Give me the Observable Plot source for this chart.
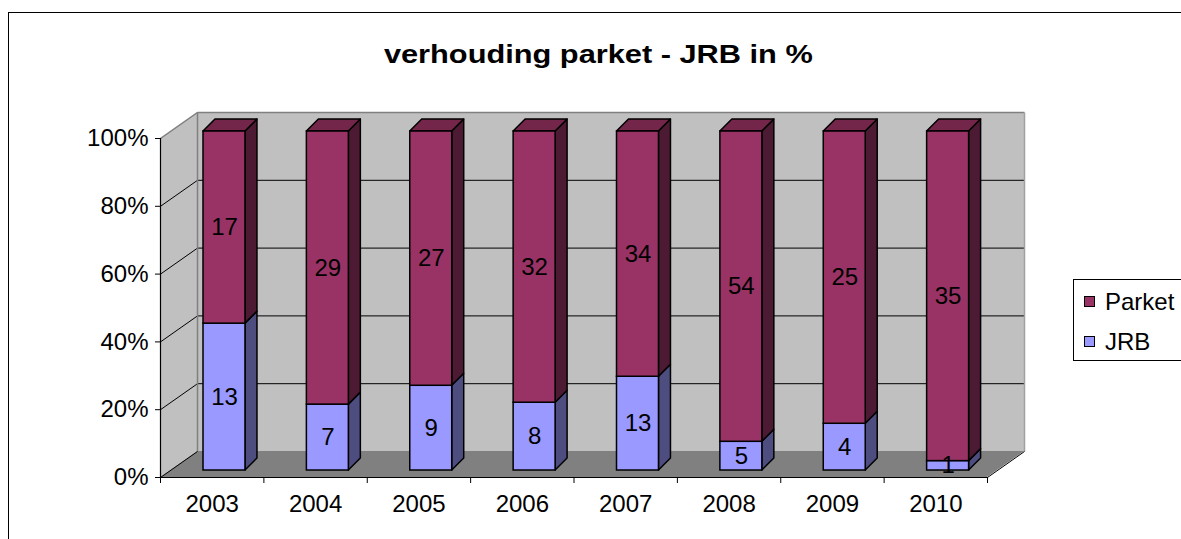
<!DOCTYPE html>
<html>
<head>
<meta charset="utf-8">
<script src="https://cdn.jsdelivr.net/npm/d3@7"></script>
<script src="https://cdn.jsdelivr.net/npm/@observablehq/plot@0.6"></script>
<style>
  html, body { margin: 0; padding: 0; background: #fff; overflow: hidden; }
  body { width: 1181px; height: 539px; position: relative; font-family: "Liberation Sans", Arial, sans-serif; }
  #frame { position: absolute; left: 8px; top: 12px; width: 1300px; height: 700px; border: 1px solid #000; box-sizing: border-box; }
  #title { position: absolute; left: 0; width: 1197px; top: 42px; text-align: center; font-weight: bold; font-size: 25px; line-height: 25px; color: #000; }
  #title span { display: inline-block; transform: scaleX(1.23); }
  #chart { position: absolute; left: 0; top: 80px; }
  #legend { position: absolute; left: 1073px; top: 279px; width: 200px; height: 82px; border: 1px solid #000; box-sizing: border-box; background: #fff; }
  .sw { position: absolute; width: 11px; height: 11px; border: 1px solid #000; box-sizing: border-box; }
  .lt { position: absolute; font-size: 24px; line-height: 24px; color: #000; }
</style>
</head>
<body>
<div id="frame"></div>
<div id="title"><span>verhouding parket - JRB in %</span></div>
<div id="chart"></div>
<div id="legend"></div>
<script>
// ---- data ----
const years = ["2003", "2004", "2005", "2006", "2007", "2008", "2009", "2010"];
const parket = [17, 29, 27, 32, 34, 54, 25, 35];
const jrb = [13, 7, 9, 8, 13, 5, 4, 1];
const yTicks = [0, 20, 40, 60, 80, 100];
const seriesNames = ["Parket", "JRB"];

// ---- styles ----
const colors = {
  Parket: { front: "#993366", side: "#4d1a33", top: "#732649" },
  JRB: { front: "#9999ff", side: "#4d4d80", top: "#7373bf" }
};
const n = years.length;
// wall depth (in scale units), bar geometry (in scale units)
const DX = 0.358, DY = 7.67;
const BX0 = 0.416, BX1 = 0.822, BY = 2.06, BDX = 0.116, BDY = 3.54;

// ---- derived table ----
const segs = [];
years.forEach((yr, i) => {
  const tot = parket[i] + jrb[i];
  const pj = jrb[i] / tot * 100;
  segs.push({ year: yr, i, series: "JRB", value: jrb[i], lo: 0, hi: pj });
  segs.push({ year: yr, i, series: "Parket", value: parket[i], lo: pj, hi: 100 });
});

const sidePts = segs.flatMap((s, k) => [
  { k, x: s.i + BX1, y1: s.lo + BY, y2: s.hi + BY, c: colors[s.series].side },
  { k, x: s.i + BX1 + BDX, y1: s.lo + BY + BDY, y2: s.hi + BY + BDY, c: colors[s.series].side }
]);
const topSegs = segs.filter(s => s.hi === 100);
const topPts = topSegs.flatMap((s, k) => [
  { k, y: s.hi + BY, x1: s.i + BX0, x2: s.i + BX1, c: colors[s.series].top },
  { k, y: s.hi + BY + BDY, x1: s.i + BX0 + BDX, x2: s.i + BX1 + BDX, c: colors[s.series].top }
]);

const sideWall = [{ x: 0, y1: 0, y2: 100 }, { x: DX, y1: DY, y2: 100 + DY }];
const floor = [{ y: 0, x1: 0, x2: n }, { y: DY, x1: DX, x2: n + DX }];
const grid = yTicks.filter(v => v > 0 && v < 100);

const chart = Plot.plot({
  width: 1181,
  height: 459,
  marginLeft: 160, marginRight: 194, marginTop: 58, marginBottom: 62,
  style: { fontFamily: "'Liberation Sans', Arial, sans-serif", fontSize: "24px", background: "transparent", color: "#000", overflow: "visible" },
  x: { domain: [0, n], range: [160, 987], axis: null },
  y: { domain: [0, 100], range: [397, 58], axis: null },
  marks: [
    // walls
    Plot.areaY(sideWall, { x: "x", y1: "y1", y2: "y2", fill: "#c0c0c0" }),
    Plot.rect([0], { x1: DX, x2: n + DX, y1: DY, y2: 100 + DY, fill: "#c0c0c0" }),
    Plot.areaX(floor, { y: "y", x1: "x1", x2: "x2", fill: "#808080" }),
    // gridlines
    Plot.link(grid, { x1: DX, x2: n + DX, y1: d => d + DY, y2: d => d + DY, stroke: "#000", strokeWidth: 1 }),
    Plot.link(grid, { x1: 0, x2: DX, y1: d => d, y2: d => d + DY, stroke: "#000", strokeWidth: 1 }),
    // wall outlines
    Plot.link([100], { x1: 0, x2: DX, y1: d => d, y2: d => d + DY, stroke: "#808080", strokeWidth: 1.5 }),
    Plot.link([100], { x1: DX, x2: n + DX, y1: d => d + DY, y2: d => d + DY, stroke: "#808080", strokeWidth: 1.5 }),
    Plot.link([0], { x1: DX, x2: DX, y1: DY, y2: 100 + DY, stroke: "#808080", strokeWidth: 1.5 }),
    Plot.link([0], { x1: n + DX, x2: n + DX, y1: DY, y2: 100 + DY, stroke: "#a0a0a0", strokeWidth: 1.5 }),
    Plot.link([0], { x1: 0, x2: DX, y1: 0, y2: DY, stroke: "#000", strokeWidth: 1 }),
    Plot.link([0], { x1: n, x2: n + DX, y1: 0, y2: DY, stroke: "#000", strokeWidth: 1 }),
    // bars: side faces
    Plot.areaY(sidePts, { x: "x", y1: "y1", y2: "y2", z: "k", fill: "c", stroke: "#000", strokeWidth: 1.5, strokeLinejoin: "round" }),
    // top faces
    Plot.areaX(topPts, { y: "y", x1: "x1", x2: "x2", z: "k", fill: "c", stroke: "#000", strokeWidth: 1.5, strokeLinejoin: "round" }),
    // front faces
    Plot.rect(segs, { x1: d => d.i + BX0, x2: d => d.i + BX1, y1: d => d.lo + BY, y2: d => d.hi + BY, fill: d => colors[d.series].front, stroke: "#000", strokeWidth: 1.5 }),
    // value labels
    Plot.text(segs, { x: d => d.i + (BX0 + BX1) / 2, y: d => (d.lo + d.hi) / 2 + BY, text: d => String(d.value), fontSize: 24, fill: "#000" }),
    // axes
    Plot.ruleX([0], { y1: 0, y2: 100, stroke: "#000", strokeWidth: 1.2 }),
    Plot.ruleY([0], { x1: 0, x2: n, stroke: "#000", strokeWidth: 1.2 }),
    Plot.axisY({ ticks: yTicks, tickFormat: d => d + "%", tickSize: 5, tickPadding: 7, fontSize: 24, label: null, stroke: "#000" }),
    Plot.axisX({ ticks: d3.range(n + 1), tickFormat: () => "", tickSize: 6, label: null, stroke: "#000" }),
    Plot.axisX({ ticks: years.map((_, i) => i + 0.5), tickFormat: d => years[Math.floor(d)], tickSize: 0, tickPadding: 17, fontSize: 24, label: null })
  ]
});
document.getElementById("chart").appendChild(chart);

// legend
const legend = document.getElementById("legend");
seriesNames.forEach((s, k) => {
  const sw = document.createElement("div");
  sw.className = "sw";
  sw.style.left = "10px";
  sw.style.top = (16 + k * 40) + "px";
  sw.style.background = colors[s].front;
  legend.appendChild(sw);
  const t = document.createElement("div");
  t.className = "lt";
  t.style.left = "31px";
  t.style.top = (10 + k * 40) + "px";
  t.textContent = s;
  legend.appendChild(t);
});
</script>
</body>
</html>
